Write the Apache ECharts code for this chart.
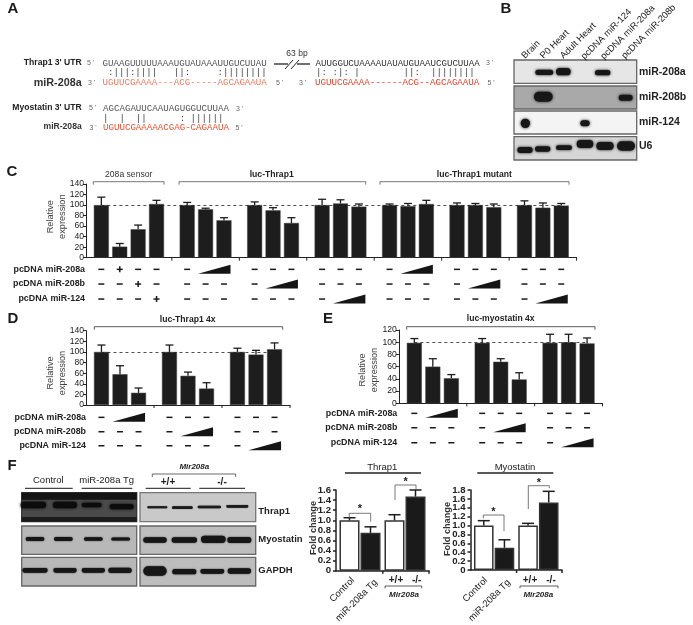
<!DOCTYPE html>
<html><head><meta charset="utf-8">
<style>html,body{margin:0;padding:0;background:#fff}#c{width:693px;height:625px}</style>
<script src="https://cdn.jsdelivr.net/npm/echarts@6/dist/echarts.min.js"></script>
</head><body><div id="c"></div>
<script>
// ---------- data ----------
const cValues = [[100,21,54,102],[100,92,71],[100,90,66],[100,103,97],[100,98,102],[100,100,96],[100,95,99]];
const cErrors = [[115,27,62,109],[105,94,76],[106,95,76],[111,110,102],[102,103,109],[104,103,102],[108,104,103]];
const cRamps = [null,0,1,2,0,1,2];
const dValues = [[100,58,23],[100,55,31],[100,95,105]];
const dErrors = [[113,74,32],[113,62,42],[107,103,117]];
const dRamps = [0,1,2];
const eValues = [[99,60,41],[99,68,39],[99,100,98]];
const eErrors = [[106,73,47],[106,73,50],[113,113,107]];
const eRamps = [0,1,2];
const f1Values = [1.0,0.75,1.0,1.47];
const f1Errors = [1.05,0.87,1.11,1.6];
const f1Ticks = [0,0.2,0.4,0.6,0.8,1.0,1.2,1.4,1.6];
const f2Values = [1.0,0.5,1.0,1.52];
const f2Errors = [1.11,0.68,1.05,1.77];
const f2Ticks = [0,0.2,0.4,0.6,0.8,1.0,1.2,1.4,1.6,1.8];
const rowNames = ['pcDNA miR-208a','pcDNA miR-208b','pcDNA miR-124'];
const blotLanes = ['Brain','P0 Heart','Adult Heart','pcDNA miR-124','pcDNA miR-208a','pcDNA miR-208b'];
const blotRows = ['miR-208a','miR-208b','miR-124','U6'];

const SANS = "'Liberation Sans'", MONO = "'Liberation Mono'";
const g = [];
function t(text,x,y,font,fill,align,rot,vert){
  g.push({type:'text',x:x,y:y,rotation:rot||0,silent:true,z:20,
    style:{text:text,font:font,fill:fill||'#222',align:align||'left',verticalAlign:vert||'middle'}});
}
function pl(points,color,w,z){
  g.push({type:'polyline',silent:true,z:z||20,shape:{points:points},style:{stroke:color||'#333',lineWidth:w||1,fill:null}});
}
function rect(x,y,w,h,fill,stroke,z){
  g.push({type:'rect',silent:true,z:z||1,shape:{x:x,y:y,width:w,height:h},style:{fill:fill,stroke:stroke||null,lineWidth:stroke?1.3:0}});
}
function band(cx,cy,rx,ry,fill,blur){
  g.push({type:'rect',silent:true,z:3,shape:{x:cx-rx,y:cy-ry,width:2*rx,height:2*ry,r:ry},style:{fill:fill||'#111',shadowBlur:blur==null?3:blur,shadowColor:fill||'#111'}});
}
function panel(l,x,y){ t(l,x,y,"bold 15px "+SANS,'#1a1a1a','center'); }
function bracket(x0,x1,y,tick,color){ pl([[x0,y+tick],[x0,y],[x1,y],[x1,y+tick]],color||'#555',0.8); }

// ---------- A ----------
panel('A',13,9);
const seqFont="9.15px "+MONO, prime="7px "+SANS;
t("Thrap1 3' UTR",81.7,62.7,"bold 8.6px "+SANS,'#222','right');
t("5 '",87,63.5,prime,'#666');
t("GUAAGUUUUUAAAUGUAUAAAUUGUCUUAU",102.5,63.5,seqFont,'#555');
t(" :|||:||||   ||:     :||||||||",102.5,72.5,seqFont,'#444');
t("UGUUCGAAAA---ACG-----AGCAGAAUA",102.5,83,seqFont,'#f2795c');
t("miR-208a",81.7,82.7,"bold 10.8px "+SANS,'#333','right');
t("3 '",88,83.5,prime,'#666');
t("5 '",276,83.5,prime,'#666');
t("3 '",299,83.5,prime,'#666');
pl([[274,64],[288,64]],'#222',1.3); pl([[297,64],[310,64]],'#222',1.3);
pl([[285,69],[293,60]],'#222',1); pl([[291,69],[299,60]],'#222',1);
t("63 bp",297,53.5,"8.5px "+SANS,'#333','center');
t("AUUGGUCUAAAAUAUAUGUAAUCGUCUUAA",315.5,63.5,seqFont,'#333');
t("|: :|: |        ||:  |||||||| ",316,72.5,seqFont,'#444');
t("UGUUCGAAAA------ACG--AGCAGAAUA",315,83,seqFont,'#e5422a');
t("3 '",486,63.5,prime,'#666');
t("5 '",487.5,83.5,prime,'#666');
t("Myostatin 3' UTR",81.7,107.5,"bold 8.6px "+SANS,'#222','right');
t("5 '",89,108.5,prime,'#666');
t("AGCAGAUUCAAUAGUGGUCUUAA",103,109,seqFont,'#555');
t("|  |  ||      : ||||||",103,118.5,seqFont,'#444');
t("UGUUCGAAAAACGAG-CAGAAUA",103,128,seqFont,'#e9512f');
t("miR-208a",81.7,127,"bold 8.6px "+SANS,'#333','right');
t("3 '",89.5,128.5,prime,'#666');
t("3 '",236,109,prime,'#666');
t("5 '",235.5,128.5,prime,'#666');

// ---------- B ----------
panel('B',506,9);
const blotBoxes=[[60,83.3,'#e6e6e6'],[86,109,'#a9a9a9'],[111,134,'#f4f4f4'],[136.7,160,'#d6d6d6']];
blotBoxes.forEach(b=>rect(514,b[0],122.7,b[1]-b[0],b[2],'#666'));
const bX=z=>490+z/3, bY=z=>z/3;
[[163,217,27,8],[220,215,22,11],[338,218,23,8],
 [160,290,28,15],[407,293,21,9],
 [106,370,14,14],[285,370,14,9],
 [105,450,23,9],[158,447,23,8],[222,443,24,7],[285,432,25,12],[345,438,26,12],[408,438,27,14]]
 .forEach(b=>band(bX(b[0]),bY(b[1]),b[2]/3,b[3]/3,'#171717',3));
const laneAnchors=[[523.3,57.3],[541.7,57.3],[561.7,57.3],[582.7,58],[602.3,58],[623.3,57.3]];
blotLanes.forEach((n,i)=>t(n,laneAnchors[i][0],laneAnchors[i][1],"9.3px "+SANS,'#222','left',Math.PI/4,'middle'));
[71.7,96.7,121.7,146].forEach((y,i)=>t(blotRows[i],639,y,"bold 10.5px "+SANS,'#222'));

// ---------- C/D/E text ----------
panel('C',12,172); panel('D',13,319); panel('E',328,319); panel('F',12,466);
const head="bold 8.6px "+SANS;
function rel(x1,x2,y){
  t('Relative',x1,y,"9.2px "+SANS,'#444','center',Math.PI/2);
  t('expression',x2,y,"9.2px "+SANS,'#444','center',Math.PI/2);
}
rel(50.5,62.3,216.7); rel(50.5,62.3,373); rel(362.7,374,370);
t('208a sensor',128.7,174.3,"8.6px "+SANS,'#333','center');
t('luc-Thrap1',271.7,174.3,head,'#222','center');
t('luc-Thrap1 mutant',474.3,174.3,head,'#222','center');
bracket(93.3,164,181.7,3); bracket(179,365.7,181.7,3); bracket(380,569,181.7,3);
t('luc-Thrap1 4x',187.7,320,head,'#222','center');
bracket(94.3,282.7,326.7,3,'#333');
t('luc-myostatin 4x',500.7,319,head,'#222','center');
bracket(406.7,595,326.7,3,'#333');
const rowFont="bold 8.9px "+SANS;
[269.3,284,299].forEach((y,i)=>t(rowNames[i],85,y,rowFont,'#222','right'));
[417.3,431.7,445.7].forEach((y,i)=>t(rowNames[i],86,y,rowFont,'#222','right'));
[413.3,427.7,442.7].forEach((y,i)=>t(rowNames[i],397.3,y,rowFont,'#222','right'));

// ---------- F blots ----------
const fX=z=>z/3, fY=z=>455+z/3;
rect(21.7,492.7,115,29,'#4a4a4a','#333'); rect(140,492.7,115.7,29,'#c9c9c9','#777');
rect(21.7,526,115,28.3,'#b8b8b8','#666'); rect(140,526,115.7,28.3,'#bdbdbd','#666');
rect(21.7,557.3,115,28.7,'#b8b8b8','#666'); rect(140,557.3,115.7,28.7,'#bdbdbd','#666');
rect(21.7,492.7,115,7,'#141414'); rect(21.7,517,115,4.7,'#1c1c1c');
[[100,150,38,10],[195,150,36,10],[275,150,30,7],[365,155,36,8]].forEach(b=>band(fX(b[0]),fY(b[1]),b[2]/3,b[3]/3,'#0c0c0c',3));
[[472,157,30,3],[547,158,31,4],[628,156,35,4],[712,154,33,4]].forEach(b=>band(fX(b[0]),fY(b[1]),b[2]/3,b[3]/3,'#1c1c1c',1));
[[105,252,28,6],[190,252,28,6],[280,252,28,5],[362,252,28,4.5],
 [465,255,35,8],[553,255,38,8],[640,253,37,11],[718,255,36,9],
 [105,346,38,7],[195,346,35,7],[280,346,35,7],[360,346,35,8],
 [465,348,35,14],[553,350,36,8],[637,349,36,7],[718,348,35,8]]
 .forEach(b=>band(fX(b[0]),fY(b[1]),b[2]/3,b[3]/3,'#161616',1.5));
t('Control',48.3,480,"9.5px "+SANS,'#222','center');
t('miR-208a Tg',106.7,480,"9.5px "+SANS,'#222','center');
pl([[25,488.3],[72.7,488.3]],'#444',1.2); pl([[81.7,488.3],[132.3,488.3]],'#444',1.2);
pl([[145.7,488.3],[190.7,488.3]],'#444',1.2); pl([[199.3,488.3],[245,488.3]],'#444',1.2);
t('+/+',168,482,"bold 10px "+SANS,'#222','center'); t('-/-',222,482,"bold 10px "+SANS,'#222','center');
bracket(152.3,235.7,474,3,'#444');
t('Mir208a',194.3,466.7,"italic bold 8px "+SANS,'#222','center');
t('Thrap1',258.3,511.7,"bold 9.5px "+SANS,'#222'); t('Myostatin',258.3,539,"bold 9.5px "+SANS,'#222'); t('GAPDH',258.3,570.3,"bold 9.5px "+SANS,'#222');

// ---------- F chart annotation ----------
t('Fold change',313.3,528,"bold 9.2px "+SANS,'#333','center',Math.PI/2);
t('Fold change',447.3,529,"bold 9.2px "+SANS,'#333','center',Math.PI/2);
t('Thrap1',382.3,467,"9.5px "+SANS+"",'#222','center'); t('Myostatin',515,467,"9.5px "+SANS,'#222','center');
pl([[345,473],[421,473]],'#222',1.3); pl([[477.3,473],[553.3,473]],'#222',1.3);
pl([[349.3,518.3],[349.3,513.3],[370.7,513.3],[370.7,521.7]],'#555',0.8);
pl([[395,500],[395,485],[416,485],[416,490]],'#555',0.8);
pl([[483.3,518.3],[483.3,515],[504,515],[504,531]],'#555',0.8);
pl([[528.3,509],[528.3,485.7],[549.3,485.7],[549.3,488.3]],'#555',0.8);
[[360,509],[405.7,482],[493.3,511.5],[539,482.5]].forEach(p=>t('*',p[0],p[1],"bold 11px "+SANS,'#222','center'));
const xl="9.5px "+SANS;
t('Control',353,579,xl,'#222','right',Math.PI/4); t('miR-208a Tg',376,581,xl,'#222','right',Math.PI/4);
t('Control',486,579,xl,'#222','right',Math.PI/4); t('miR-208a Tg',509,581,xl,'#222','right',Math.PI/4);
[[396,416.7,385,421.7,404],[530,551,520,558,538.3]].forEach(a=>{
  t('+/+',a[0],580,"bold 10px "+SANS,'#222','center'); t('-/-',a[1],580,"bold 10px "+SANS,'#222','center');
  pl([[a[2],588.3],[a[2],586],[a[3],586],[a[3],588.3]],'#333',0.8);
  t('Mir208a',a[4],595,"italic bold 8px "+SANS,'#222','center');
});

// ---------- charts ----------
const grids=[],xAxes=[],yAxes=[],series=[];
function addChart(o){
  const idx=grids.length, slotW=o.width/o.slots.length;
  grids.push({left:o.left,top:o.top,width:o.width,height:o.height,containLabel:false});
  xAxes.push({type:'category',gridIndex:idx,data:o.slots.map(String),boundaryGap:true,
    axisLabel:{show:false},axisTick:{show:false},axisLine:{show:true,onZero:false,lineStyle:{color:'#222',width:o.axisW||1}}});
  yAxes.push({type:'value',gridIndex:idx,min:o.min||0,max:o.max,interval:o.interval,splitLine:{show:false},
    axisLine:{show:true,lineStyle:{color:'#222',width:o.axisW||1}},
    axisTick:{show:true,length:3,lineStyle:{color:'#222',width:o.axisW||1}},
    axisLabel:{show:!o.tickValues,margin:2,color:'#222',fontFamily:'Liberation Sans',fontSize:8.6,
      showMinLabel:true,showMaxLabel:true,hideOverlap:false}});
  if(o.tickValues){
    // tick labels are packed tighter than the axis's own overlap check allows
    series.push({type:'custom',xAxisIndex:idx,yAxisIndex:idx,silent:true,z:5,data:o.tickValues.map(v=>[0,v]),
      renderItem:(p,api)=>{
        const v=api.value(1), c=api.coord([0,v]);
        return {type:'text',x:o.left-5,y:c[1],style:{text:v===0?'0':v.toFixed(1),
          font:"bold 9.6px 'Liberation Sans'",fill:'#222',align:'right',verticalAlign:'middle'}};
      }});
  }
  const barData=o.slots.map(()=>null);
  const errData=[];
  o.bars.forEach(b=>{barData[b.slot]={value:b.value,itemStyle:{color:b.fill||'#1d1d1d',borderColor:b.border||'#444',borderWidth:b.bw==null?0.5:b.bw}};
    errData.push([b.slot,b.err,b.value]);});
  const bar={type:'bar',xAxisIndex:idx,yAxisIndex:idx,data:barData,barWidth:o.barWidth,silent:true,z:3};
  if(o.dash) bar.markLine={silent:true,symbol:'none',label:{show:false},animation:false,
    lineStyle:{type:[3,3],color:'#222',width:0.8},
    data:[[{coord:[String(o.dash[0]),100]},{coord:[String(o.dash[1]),100]}]]};
  series.push(bar);
  const capW=o.capW;
  series.push({type:'custom',xAxisIndex:idx,yAxisIndex:idx,silent:true,z:4,data:errData,
    renderItem:(p,api)=>{
      const top=api.coord([api.value(0),api.value(1)]), base=api.coord([api.value(0),api.value(2)]);
      const st={stroke:'#1d1d1d',lineWidth:o.errW||1.3};
      return {type:'group',children:[
        {type:'line',shape:{x1:top[0],y1:top[1],x2:base[0],y2:base[1]},style:st},
        {type:'line',shape:{x1:top[0]-capW,y1:top[1],x2:top[0]+capW,y2:top[1]},style:st}]};
    }});
  // x-axis ticks at group borders
  series.push({type:'custom',xAxisIndex:idx,yAxisIndex:idx,silent:true,z:4,data:o.borders.map(s=>[s,0]),
    renderItem:(p,api)=>{
      const c=api.coord([0,0]); const x=o.left+api.value(0)*slotW;
      return {type:'line',shape:{x1:x,y1:c[1],x2:x,y2:c[1]+3},style:{stroke:'#222',lineWidth:o.axisW||1}};
    }});
  // condition markers under the bars
  if(o.marks){
    series.push({type:'custom',xAxisIndex:idx,yAxisIndex:idx,silent:true,z:4,data:o.marks,
      renderItem:(p,api)=>{
        const row=api.value(1), kind=api.value(2);
        const c=api.coord([api.value(0),0]), y=c[1]+o.rowOffsets[row], x=c[0];
        if(kind===2){
          const x2=api.coord([api.value(3),0])[0];
          const x0=x-7.5, x1=x2+6.5;
          return {type:'polygon',shape:{points:[[x0,y+4.5],[x1,y-4.5],[x1,y+4.5]]},style:{fill:'#151515'}};
        }
        const kids=[{type:'rect',shape:{x:x-3,y:y-0.7,width:6,height:1.5},style:{fill:'#1a1a1a'}}];
        if(kind===1) kids.push({type:'rect',shape:{x:x-0.7,y:y-3,width:1.5,height:6},style:{fill:'#1a1a1a'}});
        return {type:'group',children:kids};
      }});
  }
}
function groupedChart(values,errors,ramps,o){
  // each bar takes 3 slots, with 2 padding slots at both ends of a group
  const bars=[],marks=[],borders=[]; let s=0;
  values.forEach((grp,gi)=>{
    const n=grp.length, first=s+2;
    grp.forEach((v,i)=>{
      const slot=first+3*i;
      bars.push({slot:slot,value:v,err:errors[gi][i]});
      for(let r=0;r<3;r++){
        const ramp=ramps[gi];
        if(ramp===null){ marks.push([slot,r,(i===r+1)?1:0,slot]); }
        else if(ramp===r){ if(i===0) marks.push([slot,r,0,slot]); }
        else marks.push([slot,r,0,slot]);
      }
    });
    if(ramps[gi]!==null) marks.push([first+3,ramps[gi],2,first+6]);
    s+=3*n+2; borders.push(s);
  });
  const slots=[]; for(let i=0;i<s;i++) slots.push(i);
  addChart(Object.assign({slots:slots,bars:bars,marks:marks,borders:borders,barWidth:15,capW:4,dash:[2,bars[bars.length-1].slot+(o.dashPad||0)]},o));
}
groupedChart(cValues,cErrors,cRamps,{left:86,top:184,width:490.6,height:73.7,max:140,interval:20,rowOffsets:[11.6,26.3,41.3]});
groupedChart(dValues,dErrors,dRamps,{left:86,top:330.7,width:204,height:74.3,max:140,interval:20,rowOffsets:[12.3,26.7,40.7]});
groupedChart(eValues,eErrors,eRamps,{left:398.9,top:330,width:203.6,height:73.3,max:120,interval:20,rowOffsets:[10,24.4,39.4]});

function foldChart(values,errors,o){
  const pos=[4,11,19,26];
  const slots=[]; for(let i=0;i<31;i++) slots.push(i);
  const bars=values.map((v,i)=>({slot:pos[i],value:v,err:errors[i],fill:i%2?'#1a1a1a':'#fff',border:'#333',bw:1.5}));
  addChart(Object.assign({slots:slots,bars:bars,borders:[15.6,31],capW:6,errW:1.5,axisW:1.5,interval:0.2},o));
}
foldChart(f1Values,f1Errors,{left:336,top:490,width:93,height:80.7,max:1.6,barWidth:20,tickValues:f1Ticks});
foldChart(f2Values,f2Errors,{left:470.5,top:490,width:91.5,height:80,max:1.8,barWidth:19.6,tickValues:f2Ticks});

const chart=echarts.init(document.getElementById('c'),null,{renderer:'canvas',width:693,height:625});
chart.setOption({animation:false,backgroundColor:'#fff',grid:grids,xAxis:xAxes,yAxis:yAxes,series:series,graphic:{elements:g}});
</script></body></html>
